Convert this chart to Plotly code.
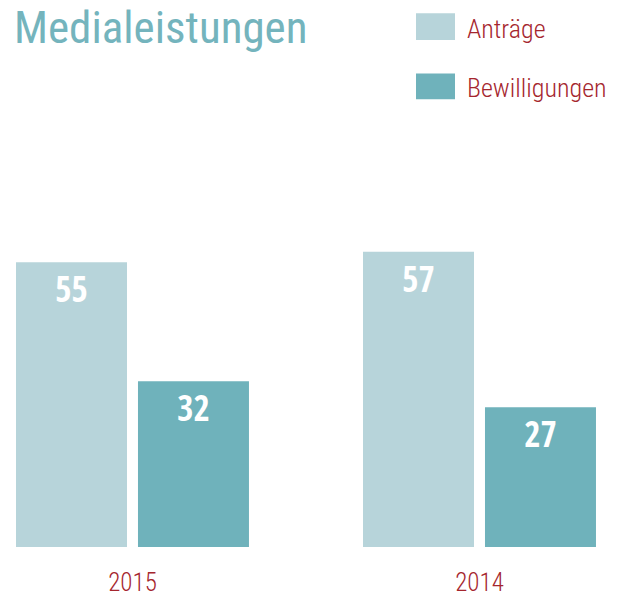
import plotly.graph_objects as go

years = ["2015", "2014"]
antraege = [55, 57]
bewilligungen = [32, 27]
series_names = ["Anträge", "Bewilligungen"]

LIGHT = "#b7d4da"
DARK = "#6fb2bb"
RED = "#a5262e"
FONT = "Roboto Condensed, Liberation Sans Narrow, sans-serif"
NUM_FONT = "Open Sans Condensed, Roboto Condensed, sans-serif"

W, H = 625, 597
TOP, BOTTOM = 110, 44          # plot area spans y=110..553 px


def py(y):
    # page pixel y -> paper coordinate of the plot area
    return (H - BOTTOM - y) / (H - TOP - BOTTOM)


fig = go.Figure()
for name, vals, col in [(series_names[0], antraege, LIGHT), (series_names[1], bewilligungen, DARK)]:
    fig.add_trace(go.Bar(
        x=years, y=vals, name=name,
        marker=dict(color=col, line_width=0),
        text=[str(v) for v in vals],
        textposition="inside",
        insidetextanchor="end",
        textangle=0,
        textfont=dict(family=NUM_FONT, size=35, color="white", weight="bold"),
        showlegend=False,
    ))

# legend drawn by hand: large swatches + labels
swatches = [(12, 39), (73, 99)]
for name, col, (t, b) in zip(series_names, [LIGHT, DARK], swatches):
    fig.add_shape(type="rect", xref="paper", yref="paper",
                  x0=416 / W, x1=455 / W, y0=py(b), y1=py(t),
                  fillcolor=col, line_width=0)
    fig.add_annotation(xref="paper", yref="paper", x=465 / W, y=py((t + b) / 2 + 2),
                       text=name, showarrow=False, xanchor="left", yanchor="middle",
                       font=dict(family=FONT, size=26, color=RED, weight=300))

fig.add_annotation(xref="paper", yref="paper", x=12 / W, y=py(26),
                   text="Medialeistungen", showarrow=False, xanchor="left", yanchor="middle",
                   font=dict(family=FONT, size=45, color="#74b4bd"))

fig.update_layout(
    width=W, height=H,
    margin=dict(l=0, r=0, t=TOP, b=BOTTOM),
    barmode="group", bargap=0.297, bargroupgap=0.09,
    plot_bgcolor="white", paper_bgcolor="white",
    xaxis=dict(range=[-0.3818, 1.4193], showgrid=False, showline=False, zeroline=False,
               ticks="", ticklabelstandoff=18,
               tickfont=dict(family=FONT, size=25, color=RED, weight=300)),
    yaxis=dict(range=[0, 84.4], visible=False),
)

fig.write_html("out.html", config={"displayModeBar": False},
               post_script="document.body.style.margin='0';")
